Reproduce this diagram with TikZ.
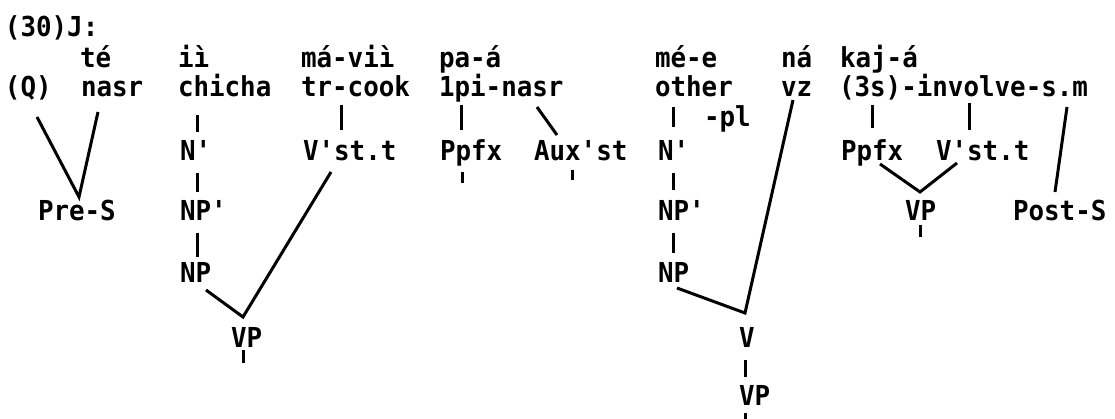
\documentclass[tikz,border=0pt]{standalone}
\usepackage{fontspec}
\setmonofont{DejaVu Sans Mono}[FakeStretch=0.94]
\usetikzlibrary{calc}
\begin{document}
\begin{tikzpicture}[x=1pt,y=-1pt,
  lbl/.style={anchor=base west,inner sep=0pt,outer sep=0pt,
    font=\fontsize{27.5}{30}\selectfont\ttfamily\bfseries},
  br/.style={line width=3pt,line cap=butt}]
\useasboundingbox (0,0) rectangle (1115,419);
% terminals
\node[lbl] (ex) at (5,37) {(30)J:};
\node[lbl] (te) at (80,68) {té};
\node[lbl] (Q) at (5,97) {(Q)};
\node[lbl] (nasr) at (81,97) {nasr};
\node[lbl] (ii) at (178,68) {iì};
\node[lbl] (chicha) at (178,97) {chicha};
\node[lbl] (mavii) at (301,68) {má-viì};
\node[lbl] (trcook) at (301,97) {tr-cook};
\node[lbl] (paa) at (439,68) {pa-á};
\node[lbl] (lpi) at (439,97) {1pi-nasr};
\node[lbl] (mee) at (655,68) {mé-e};
\node[lbl] (other) at (655,97) {other};
\node[lbl] (pl) at (704,127) {-pl};
\node[lbl] (na) at (781,68) {ná};
\node[lbl] (vz) at (781,97) {vz};
\node[lbl] (kaja) at (840,68) {kaj-á};
\node[lbl] (involve) at (839,97) {(3s)-involve-s.m};
% categories
\node[lbl] (Na) at (180,161) {N'};
\node[lbl] (Vst) at (303,161) {V'st.t};
\node[lbl] (Ppfx) at (440,161) {Ppfx};
\node[lbl] (Aux) at (534,161) {Aux'st};
\node[lbl] (Nb) at (658,161) {N'};
\node[lbl] (Ppfxb) at (841,161) {Ppfx};
\node[lbl] (Vstb) at (936,161) {V'st.t};
\node[lbl] (PreS) at (38,221) {Pre-S};
\node[lbl] (NPpa) at (180,221) {NP'};
\node[lbl] (NPpb) at (658,221) {NP'};
\node[lbl] (VPb) at (905,221) {VP};
\node[lbl] (PostS) at (1013,221) {Post-S};
\node[lbl] (NPa) at (180,283) {NP};
\node[lbl] (NPb) at (658,283) {NP};
\node[lbl] (VPa) at (231,347) {VP};
\node[lbl] (V) at (739,347) {V};
\node[lbl] (VPc) at (739,405) {VP};
% junctions
\coordinate (jPre) at ($(PreS.base west)+(41,-24)$);
\coordinate (jVPa) at ($(VPa.base west)+(12,-30)$);
\coordinate (jV) at ($(V.base west)+(6,-34)$);
\coordinate (jVPb) at ($(VPb.base west)+(15,-29)$);
% connectors
\draw[br] ($(Q.base west)+(32,20)$) -- (jPre) -- ($(nasr.base west)+(17,15)$);
\draw[br] ($(chicha.base west)+(19,18)$) -- ($(Na.base west)+(17,-29)$);
\draw[br] ($(Na.base west)+(17,12)$) -- ($(NPpa.base west)+(17,-29)$);
\draw[br] ($(NPpa.base west)+(17,12)$) -- ($(NPa.base west)+(17,-26)$);
\draw[br] ($(NPa.base west)+(26,7)$) -- (jVPa) -- ($(Vst.base west)+(28,11)$);
\draw[br] ($(VPa.base west)+(12,3)$) -- ++(0,13);
\draw[br] ($(trcook.base west)+(40,8)$) -- ($(Vst.base west)+(38,-31)$);
\draw[br] ($(lpi.base west)+(22,8)$) -- ($(Ppfx.base west)+(21,-31)$);
\draw[br] ($(lpi.base west)+(98,10)$) -- ($(Aux.base west)+(23,-26)$);
\draw[br] ($(Ppfx.base west)+(22,11)$) -- ++(0,11);
\draw[br] ($(Aux.base west)+(38,9)$) -- ++(0,10);
\draw[br] ($(other.base west)+(18,10)$) -- ($(Nb.base west)+(15,-34)$);
\draw[br] ($(Nb.base west)+(15,12)$) -- ($(NPpb.base west)+(15,-31)$);
\draw[br] ($(NPpb.base west)+(15,12)$) -- ($(NPb.base west)+(15,-30)$);
\draw[br] ($(NPb.base west)+(19,5)$) -- (jV) -- ($(vz.base west)+(12,3)$);
\draw[br] ($(V.base west)+(6,13)$) -- ($(VPc.base west)+(6,-28)$);
\draw[br] ($(VPc.base west)+(6,8)$) -- ++(0,12);
\draw[br] ($(involve.base west)+(33,8)$) -- ($(Ppfxb.base west)+(31,-33)$);
\draw[br] ($(involve.base west)+(130,6)$) -- ($(Vstb.base west)+(33,-31)$);
\draw[br] ($(involve.base west)+(228,10)$) -- ($(PostS.base west)+(42,-29)$);
\draw[br] ($(Ppfxb.base west)+(39,3)$) -- (jVPb) -- ($(Vstb.base west)+(21,2)$);
\draw[br] ($(VPb.base west)+(15,4)$) -- ++(0,12);
\end{tikzpicture}
\end{document}
